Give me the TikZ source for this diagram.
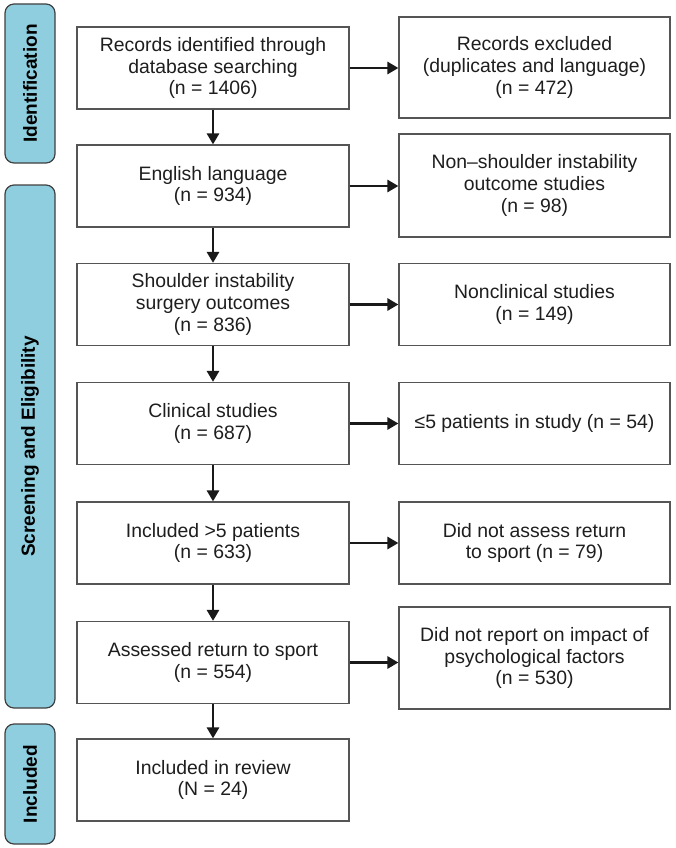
\documentclass[tikz,border=0pt]{standalone}
\usepackage{fontspec}
\setmainfont{Liberation Sans}
\usetikzlibrary{arrows.meta}
\definecolor{barblue}{RGB}{142,206,222}
\definecolor{boxline}{RGB}{85,85,85}
\definecolor{txt}{RGB}{30,30,30}
\tikzset{
  flowbox/.style={draw=boxline, line width=1.2pt, fill=white, rectangle,
    align=center, inner sep=2pt, text=txt,
    font=\fontsize{19.4}{21.6}\selectfont},
  leftbox/.style={flowbox, minimum width=272pt, minimum height=82pt},
  rightbox/.style={flowbox, minimum width=271pt, minimum height=82pt},
  phasebar/.style={draw=black!75, line width=1.2pt, fill=barblue, rounded corners=9pt,
    minimum width=50pt, inner sep=0pt, text=black,
    font=\fontsize{19}{21.5}\selectfont\bfseries},
  flowarrow/.style={draw=black!90, line width=2.8pt,
    -{Triangle[length=11pt,width=12pt]}}
}
\begin{document}
\begin{tikzpicture}[x=1pt,y=-1pt]
\useasboundingbox (0,0) rectangle (675,848);

% phase bars
\node[phasebar, minimum height=159pt] (pid) at (30,83.5) {\rotatebox{90}{Identification}};
\node[phasebar, minimum height=523pt] (pse) at (30,446.5) {\rotatebox{90}{Screening and Eligibility}};
\node[phasebar, minimum height=120pt] (pin) at (30,784) {\rotatebox{90}{Included}};

% left column
\node[leftbox] (L1) at (213,68) {Records identified through\\database searching\\(n = 1406)};
\node[leftbox] (L2) at (213,186) {English language\\(n = 934)};
\node[leftbox] (L3) at (213,304.5) {Shoulder instability\\surgery outcomes\\(n = 836)};
\node[leftbox] (L4) at (213,423.5) {Clinical studies\\(n = 687)};
\node[leftbox] (L5) at (213,543) {Included >5 patients\\(n = 633)};
\node[leftbox] (L6) at (213,662.5) {Assessed return to sport\\(n = 554)};
\node[leftbox] (L7) at (213,780) {Included in review\\(N = 24)};

% right column
\node[rightbox, minimum height=101pt] (R1) at (534.5,67.5) {Records excluded\\(duplicates and language)\\(n = 472)};
\node[rightbox, minimum height=103pt] (R2) at (534.5,185.5) {Non–shoulder instability\\outcome studies\\(n = 98)};
\node[rightbox] (R3) at (534.5,304.5) {Nonclinical studies\\(n = 149)};
\node[rightbox] (R4) at (534.5,423.5) {≤5 patients in study (n = 54)};
\node[rightbox] (R5) at (534.5,543) {Did not assess return\\to sport (n = 79)};
\node[rightbox, minimum height=102pt] (R6) at (534.5,658) {Did not report on impact of\\psychological factors\\(n = 530)};

% vertical arrows
\draw[flowarrow] (L1.south) -- (L2.north);
\draw[flowarrow] (L2.south) -- (L3.north);
\draw[flowarrow] (L3.south) -- (L4.north);
\draw[flowarrow] (L4.south) -- (L5.north);
\draw[flowarrow] (L5.south) -- (L6.north);
\draw[flowarrow] (L6.south) -- (L7.north);

% horizontal arrows
\draw[flowarrow] (L1.east) -- (L1.east -| R1.west);
\draw[flowarrow] (L2.east) -- (L2.east -| R2.west);
\draw[flowarrow] (L3.east) -- (L3.east -| R3.west);
\draw[flowarrow] (L4.east) -- (L4.east -| R4.west);
\draw[flowarrow] (L5.east) -- (L5.east -| R5.west);
\draw[flowarrow] (L6.east) -- (L6.east -| R6.west);
\end{tikzpicture}
\end{document}
